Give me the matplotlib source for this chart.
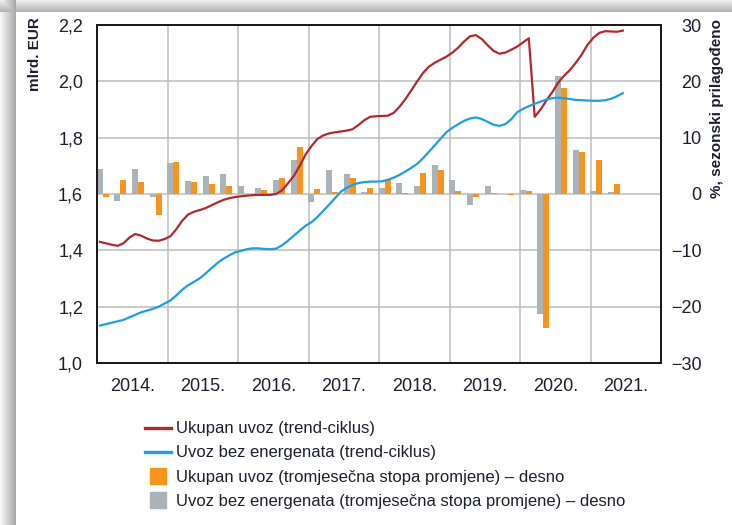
import numpy as np
import matplotlib
matplotlib.use('Agg')
import matplotlib.pyplot as plt
from matplotlib.lines import Line2D

plt.rcParams['font.family'] = ['Liberation Sans Narrow', 'Liberation Sans', 'DejaVu Sans']

# mjesečni podaci (trend-ciklus), mlrd. EUR, od siječnja 2014. do lipnja 2021.
ukupan_trend = [
    1.430, 1.425, 1.420, 1.416, 1.425, 1.445, 1.458, 1.452, 1.442, 1.435, 1.434, 1.440,
    1.450, 1.475, 1.505, 1.527, 1.537, 1.543, 1.550, 1.560, 1.570, 1.579, 1.585, 1.589,
    1.592, 1.594, 1.596, 1.597, 1.597, 1.597, 1.600, 1.613, 1.638, 1.664, 1.700, 1.740,
    1.770, 1.795, 1.808, 1.815, 1.819, 1.822, 1.825, 1.830, 1.845, 1.862, 1.874, 1.876,
    1.877, 1.878, 1.888, 1.910, 1.937, 1.968, 2.000, 2.030, 2.052, 2.066, 2.077, 2.088,
    2.102, 2.120, 2.142, 2.160, 2.164, 2.150, 2.128, 2.108, 2.098, 2.102, 2.112, 2.123,
    2.138, 2.153, 1.874, 1.900, 1.932, 1.962, 1.995, 2.020, 2.040, 2.066, 2.095, 2.130,
    2.155, 2.172, 2.178, 2.177, 2.176, 2.180,
]
bez_energ_trend = [
    1.133, 1.138, 1.143, 1.148, 1.153, 1.162, 1.171, 1.180, 1.186, 1.192, 1.200, 1.211,
    1.222, 1.240, 1.260, 1.276, 1.288, 1.301, 1.318, 1.337, 1.355, 1.370, 1.382, 1.393,
    1.398, 1.404, 1.407, 1.407, 1.405, 1.404, 1.406, 1.418, 1.434, 1.452, 1.470, 1.487,
    1.500, 1.518, 1.540, 1.562, 1.585, 1.608, 1.622, 1.632, 1.639, 1.642, 1.644, 1.644,
    1.645, 1.650, 1.658, 1.668, 1.680, 1.693, 1.707, 1.727, 1.750, 1.773, 1.797, 1.820,
    1.835, 1.848, 1.860, 1.868, 1.872, 1.866, 1.856, 1.846, 1.842, 1.848, 1.865, 1.890,
    1.902, 1.912, 1.920, 1.928, 1.935, 1.940, 1.942, 1.940, 1.937, 1.934, 1.933, 1.932,
    1.931, 1.931, 1.933, 1.938, 1.947, 1.958,
]

# tromjesečne stope promjene (%), 2014. Q1 – 2021. Q2
ukupan_stopa = [-0.6, 2.5, 2.2, -3.8, 5.7, 2.1, 1.8, 1.5, 0.0, 0.7, 2.9, 8.4,
                0.9, 0.4, 2.8, 1.0, 2.7, 0.1, 3.8, 4.3, 0.6, -0.6, 0.1, -0.1,
                0.6, -23.7, 18.8, 7.5, 6.0, 1.8]
bez_energ_stopa = [4.5, -1.2, 4.4, -0.5, 5.5, 2.3, 3.2, 3.5, 1.4, 1.0, 2.5, 6.0,
                   -1.5, 4.3, 3.5, 0.4, 1.0, 1.9, 1.5, 5.1, 2.5, -1.9, 1.5, 0.0,
                   0.7, -21.3, 21.0, 7.8, 0.5, 0.3]

godine = ['2014.', '2015.', '2016.', '2017.', '2018.', '2019.', '2020.', '2021.']
lijeve_oznake = ['1,0', '1,2', '1,4', '1,6', '1,8', '2,0', '2,2']
desne_oznake = ['\u221230', '\u221220', '\u221210', '0', '10', '20', '30']

crvena = '#B3282E'
plava = '#1BA0E0'
narancasta = '#F7941D'
siva = '#A9B3B8'
tekst = '#1E1E30'

fig = plt.figure(figsize=(7.32, 5.25), dpi=100)

# sjena okvira (gore i lijevo)
pozadina = fig.add_axes([0, 0, 1, 1], zorder=-10)
slika = np.ones((525, 732))
slika[:12, :] = np.linspace(0.93, 0.70, 12)[:, None]
slika[:, :16] = np.minimum(slika[:, :16], np.linspace(0.97, 0.66, 16)[None, :])
pozadina.imshow(slika, cmap='gray', vmin=0, vmax=1, aspect='auto', interpolation='bilinear')
pozadina.axis('off')

ax2 = fig.add_axes([97 / 732, 1 - 363 / 525, 564 / 732, 338 / 525])
ax = ax2.twinx()
ax2.set_zorder(1)
ax.set_zorder(2)
ax.patch.set_visible(False)

n_kv = len(ukupan_stopa)
kvartali = 2014 + (np.arange(n_kv) + 0.5) / 4
sirina = 0.085
ax2.bar(kvartali - sirina, bez_energ_stopa, width=sirina, color=siva, zorder=3)
ax2.bar(kvartali, ukupan_stopa, width=sirina, color=narancasta, zorder=3)

mjeseci = 2014 + (np.arange(len(ukupan_trend)) + 0.5) / 12
ax.plot(mjeseci, ukupan_trend, color=crvena, lw=1.6)
ax.plot(mjeseci, bez_energ_trend, color=plava, lw=1.6)

# osi: lijeva (mlrd. EUR) i desna (%)
ax2.set_xlim(2014, 2022)
ax2.set_ylim(-30, 30)
ax.set_ylim(1.0, 2.2)
ax2.yaxis.tick_right()
ax.yaxis.tick_left()
ax2.set_yticks(np.arange(-30, 31, 10))
ax2.set_yticklabels(desne_oznake)
ax.set_yticks(np.arange(1.0, 2.21, 0.2))
ax.set_yticklabels(lijeve_oznake)
ax2.set_xticks(np.arange(2014, 2023))
ax2.set_xticklabels([])
ax2.set_xticks(np.arange(2014, 2022) + 0.5, minor=True)
ax2.set_xticklabels(godine, minor=True)
ax2.grid(True, which='major', color='#BDBDBD', lw=1.1, zorder=0)
ax2.set_axisbelow(True)

ax2.tick_params(axis='x', which='both', length=0, pad=11, labelsize=13, labelcolor=tekst)
ax2.tick_params(axis='y', length=0, pad=29, labelsize=13, labelcolor=tekst)
for lbl in ax2.get_yticklabels():
    lbl.set_horizontalalignment('right')
ax.tick_params(axis='y', length=0, pad=10, labelsize=13, labelcolor=tekst)
for a in (ax, ax2):
    for s in a.spines.values():
        s.set_color('#1a1a1a')
        s.set_linewidth(1.4)

fig.text(35 / 732, 1 - 17 / 525, 'mlrd. EUR', rotation=90, ha='center', va='top',
         fontsize=11, fontweight='bold', color=tekst)
fig.text(717 / 732, 1 - 19 / 525, '%, sezonski prilagođeno', rotation=90, ha='center',
         va='top', fontsize=11, fontweight='bold', color=tekst)

rucke = [
    Line2D([], [], color=crvena, lw=2.4),
    Line2D([], [], color=plava, lw=2.4),
    Line2D([], [], color=narancasta, marker='s', ms=12, ls='none'),
    Line2D([], [], color=siva, marker='s', ms=12, ls='none'),
]
natpisi = [
    'Ukupan uvoz (trend-ciklus)',
    'Uvoz bez energenata (trend-ciklus)',
    'Ukupan uvoz (tromjesečna stopa promjene) – desno',
    'Uvoz bez energenata (tromjesečna stopa promjene) – desno',
]
fig.legend(rucke, natpisi, loc='upper left', bbox_to_anchor=(137 / 732, 1 - 413 / 525),
           frameon=False, fontsize=12, handlelength=1.55, handletextpad=0.3,
           labelspacing=0.55, borderpad=0, labelcolor=tekst)

fig.savefig('out.png', dpi=100)
